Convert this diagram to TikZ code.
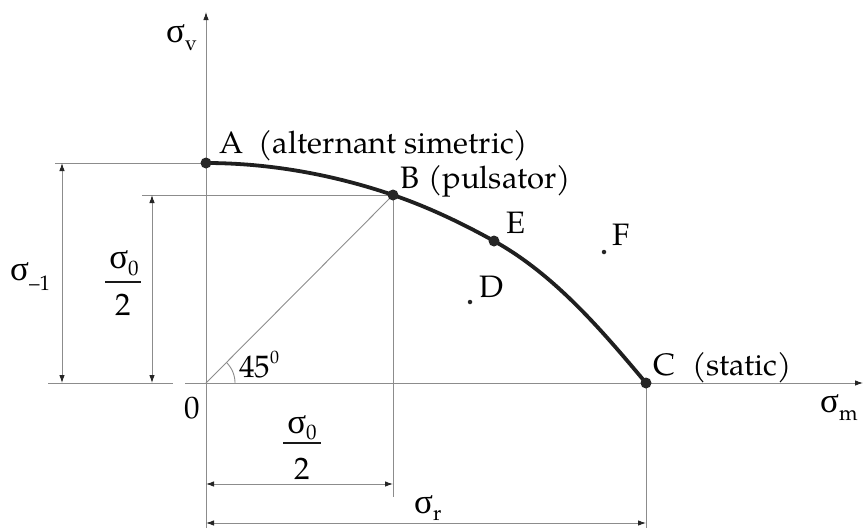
\documentclass[tikz,border=0pt]{standalone}
\usepackage{fontspec}
\setmainfont{TeX Gyre Pagella}
\newfontfamily\grkfont{Liberation Serif}
\usetikzlibrary{arrows.meta}
\newcommand\sgm[2][-8pt]{{\grkfont\fontsize{35}{35}\selectfont σ}\raisebox{#1}{\fontsize{21}{21}\selectfont #2}}
\begin{document}
\begin{tikzpicture}[x=1pt,y=-1pt,
  thinln/.style={draw=black!45, line width=0.9pt},
  tipst/.tip={Latex[length=8pt,width=5.5pt,color=black!85]},
  dimln/.style={thinln, tipst-tipst},
  axisln/.style={thinln, -tipst},
  curveln/.style={draw=black!88, line width=3.8pt},
  bigdot/.style={circle, fill=black!85, inner sep=0pt, minimum size=11pt},
  smalldot/.style={circle, fill=black!85, inner sep=0pt, minimum size=4.5pt},
  lbl/.style={inner sep=0pt, text=black, font=\fontsize{31}{31}\selectfont},
  fracbar/.style={draw=black!90, line width=1.3pt}]
\path[use as bounding box] (0,0) rectangle (863,528);
% key points
\coordinate (O) at (206,383);
\coordinate (A) at (206,163);
\coordinate (B) at (393,195);
\coordinate (E) at (494,241);
\coordinate (C) at (646,383);
\coordinate (D) at (470,302);
\coordinate (F) at (604,252);
% axes
\coordinate (vb) at (206,528);
\coordinate (vt) at (206,12);
\coordinate (hl) at (185,383);
\coordinate (hr) at (863,383);
\draw[axisln] (vb) -- (vt);
\draw[axisln] (hl) -- (hr);
% extension lines
\coordinate (eO1) at (48,383);
\coordinate (eO2) at (173,383);
\coordinate (eA) at (55,163);
\coordinate (eB) at (142,195);
\coordinate (Bd) at (393,497);
\coordinate (Cd) at (646,528);
\draw[thinln] (eO1) -- (eO2);
\draw[thinln] (eA) -- (A);
\draw[thinln] (eB) -- (B);
\draw[thinln] (B) -- (Bd);
\draw[thinln] (C) -- (Cd);
\draw[thinln] (O) -- (B);
% angle arc
\draw[thinln] plot[domain=0:45,samples=20] ({206+29*cos(\x)},{383-29*sin(\x)});
% dimension lines
\coordinate (d1a) at (62,163);
\coordinate (d1b) at (62,383);
\coordinate (d2a) at (152,195);
\coordinate (d2b) at (152,383);
\coordinate (d3a) at (206,484);
\coordinate (d3b) at (393,484);
\coordinate (d4a) at (206,523);
\coordinate (d4b) at (646,523);
\draw[dimln] (d1a) -- (d1b);
\draw[dimln] (d2a) -- (d2b);
\draw[dimln] (d3a) -- (d3b);
\draw[dimln] (d4a) -- (d4b);
% limit curve
\draw[curveln] (A) .. controls (269,163) and (333,174.5) .. (B)
  .. controls (428,207) and (461.6,223) .. (E)
  .. controls (554.4,274.5) and (601.6,330.1) .. (C);
% points
\node[bigdot] (pA) at (A) {};
\node[bigdot] (pB) at (B) {};
\node[bigdot] (pE) at (E) {};
\node[bigdot] (pC) at (C) {};
\node[smalldot] (pD) at (D) {};
\node[smalldot] (pF) at (F) {};
% labels
\node[lbl, anchor=base west] (lA) at (219,153) {A\hspace{0.5em}(alternant simetric)};
\node[lbl, anchor=base west] (lB) at (400,188) {B\hspace{0.3em}(pulsator)};
\node[lbl, anchor=base west] (lC) at (653,375) {C\hspace{0.55em}(static)};
\node[lbl, anchor=base west] (lD) at (479,297) {D};
\node[lbl, anchor=base west] (lE) at (506,233) {E};
\node[lbl, anchor=base west] (lF) at (612,245) {F};
\node[lbl, anchor=base] (l0) at (192,418) {0};
\node[lbl, anchor=base west] (l45) at (239,377) {45\raisebox{14pt}{\fontsize{18}{18}\selectfont 0}};
\node[lbl, anchor=base west] (lsv) at (166,42) {\sgm{v}};
\node[lbl, anchor=base west] (lsm) at (820,412) {\sgm{m}};
\node[lbl, anchor=base west] (lsr) at (414,513) {\sgm[-7pt]{r}};
\node[lbl, anchor=base west] (ls1) at (10,280) {\sgm[-10pt]{–1}};
% fraction left
\node[lbl, anchor=base] (fn1) at (124,268) {\sgm[-7pt]{0}};
\coordinate (fb1a) at (105,282);
\coordinate (fb1b) at (141,282);
\draw[fracbar] (fb1a) -- (fb1b);
\node[lbl, anchor=base] (fd1) at (123,315) {2};
% fraction bottom
\node[lbl, anchor=base] (fn2) at (302,433) {\sgm[-6pt]{0}};
\coordinate (fb2a) at (283,443);
\coordinate (fb2b) at (321,443);
\draw[fracbar] (fb2a) -- (fb2b);
\node[lbl, anchor=base] (fd2) at (302,479) {2};
\end{tikzpicture}
\end{document}
